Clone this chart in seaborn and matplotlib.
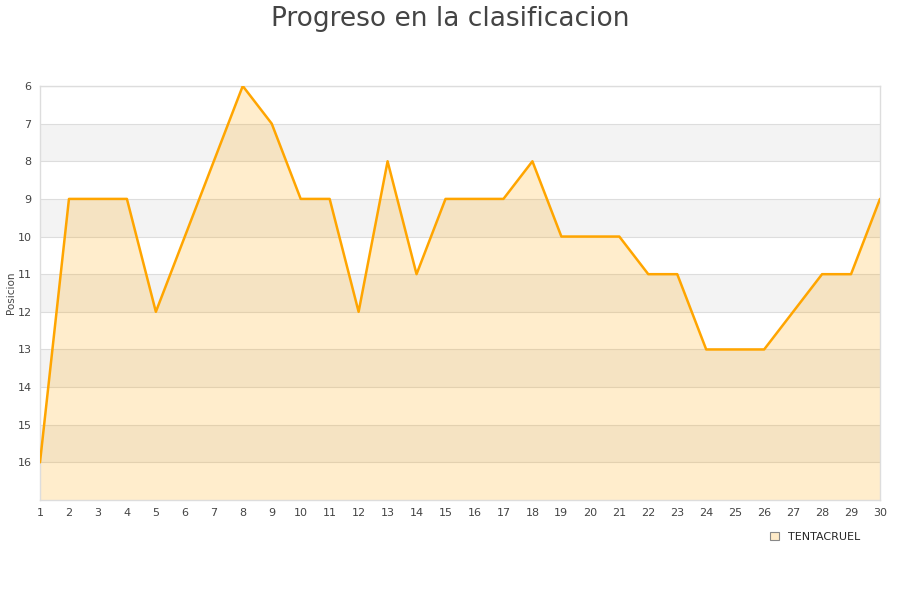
import matplotlib
matplotlib.use("Agg")
import matplotlib.pyplot as plt
import seaborn as sns
import pandas as pd
from matplotlib.patches import Patch

jornadas = list(range(1, 31))
posiciones = [16, 9, 9, 9, 12, 10, 8, 6, 7, 9, 9, 12, 8, 11, 9,
              9, 9, 8, 10, 10, 10, 11, 11, 13, 13, 13, 12, 11, 11, 9]
equipo = "TENTACRUEL"

df = pd.DataFrame({"Jornada": jornadas, "Posicion": posiciones})

sns.set_style("white")
plt.rcParams['font.family'] = ['DejaVu Sans']

fig = plt.figure(figsize=(9, 6), dpi=100)
ax = fig.add_axes([40 / 900, 1 - 500 / 600, 840 / 900, 414 / 600])

# franjas alternas
for y0 in range(7, 17, 2):
    ax.axhspan(y0, y0 + 1, color="#f3f3f3", zorder=0, lw=0)
for y in range(6, 17):
    ax.axhline(y, color="#dddddd", lw=0.8, zorder=1)

ax.fill_between(df["Jornada"], df["Posicion"], 17, color="#ffa500", alpha=0.2, lw=0, zorder=2)
sns.lineplot(x="Jornada", y="Posicion", data=df, color="#ffa500", lw=1.8, ax=ax, zorder=3)

ax.set_xlim(1, 30)
ax.set_ylim(17, 6)
ax.set_xticks(jornadas)
ax.set_yticks(range(6, 17))
ax.tick_params(axis="both", labelsize=8, colors="#444444", length=0)
ax.tick_params(axis="x", pad=6)
ax.tick_params(axis="y", pad=6)
ax.set_xlabel("")
ax.set_ylabel("Posicion", fontsize=7.5, color="#444444")
ax.yaxis.set_label_coords(-0.029, 0.5)
for s in ax.spines.values():
    s.set_color("#dddddd")
    s.set_linewidth(1)

fig.suptitle("Progreso en la clasificacion", fontsize=19, color="#444444", y=0.99)

handle = Patch(facecolor="#ffebc8", edgecolor="#888888", lw=0.8)
fig.legend([handle], [equipo], loc="center left", bbox_to_anchor=(760 / 900, 1 - 537 / 600),
           frameon=False, fontsize=8, handlelength=0.8, handleheight=0.8, handletextpad=0.8)

plt.savefig("out.png", dpi=100)
